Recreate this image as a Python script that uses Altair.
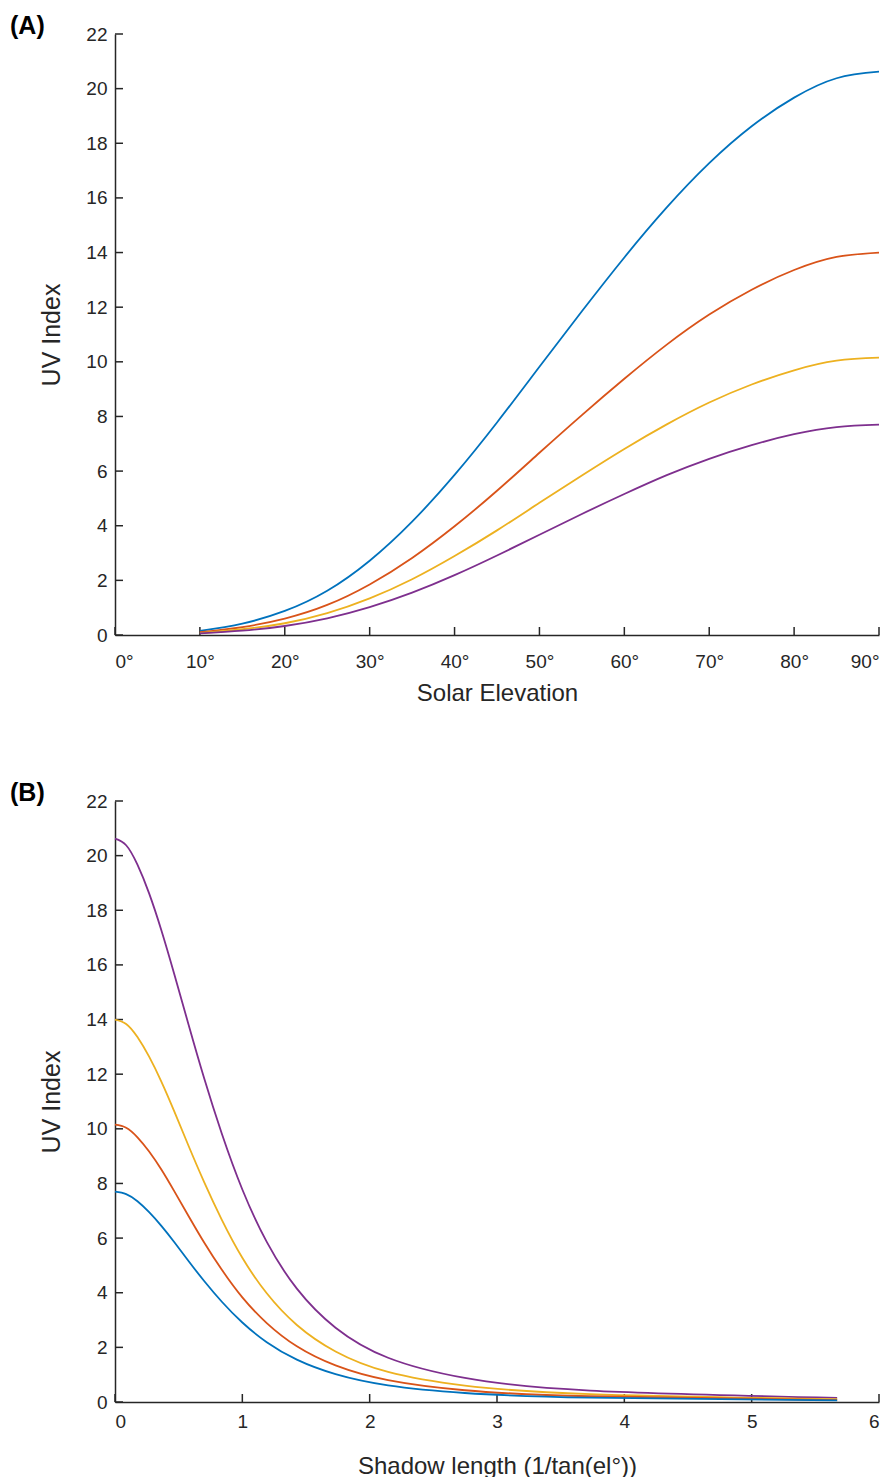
import altair as alt
import pandas as pd

# ---- data ----
elev = [10, 15, 20, 25, 30, 35, 40, 45, 50, 55, 60, 65, 70, 75, 80, 85, 90]
uv_s1 = [0.15, 0.42, 0.88, 1.62, 2.72, 4.15, 5.86, 7.78, 9.82, 11.85, 13.82, 15.65, 17.27, 18.62, 19.67, 20.38, 20.62]
uv_s2 = [0.10, 0.29, 0.60, 1.10, 1.85, 2.82, 3.98, 5.28, 6.67, 8.05, 9.38, 10.63, 11.73, 12.64, 13.36, 13.84, 14.00]
uv_s3 = [0.07, 0.21, 0.43, 0.80, 1.34, 2.04, 2.89, 3.83, 4.84, 5.84, 6.81, 7.71, 8.51, 9.17, 9.69, 10.04, 10.15]
uv_s4 = [0.06, 0.16, 0.33, 0.61, 1.02, 1.55, 2.19, 2.91, 3.67, 4.43, 5.16, 5.85, 6.45, 6.95, 7.35, 7.61, 7.70]
series = ["s1", "s2", "s3", "s4"]

colors_a = ["#0072BD", "#D95319", "#EDB120", "#7E2F8E"]
colors_b = ["#7E2F8E", "#EDB120", "#D95319", "#0072BD"]

yticks = [0, 2, 4, 6, 8, 10, 12, 14, 16, 18, 20, 22]
xticks_a = [0, 10, 20, 30, 40, 50, 60, 70, 80, 90]
xticks_b = [0, 1, 2, 3, 4, 5, 6]

rows = []
for name, vals in zip(series, [uv_s1, uv_s2, uv_s3, uv_s4]):
    for e, v in zip(elev, vals):
        rows.append({"el": e, "uv": v, "series": name})
df = pd.DataFrame(rows)

df_yt = pd.DataFrame({"uv": yticks})
df_xa = pd.DataFrame({"el": xticks_a})
df_xb = pd.DataFrame({"sx": xticks_b})

FONT = "Liberation Sans"
INK = "#262626"
W = 764
H = 601
TICK = 8

y_enc = alt.Y("uv:Q", scale=alt.Scale(domain=[0, 22], nice=False, zero=False),
              axis=alt.Axis(values=yticks, title="UV Index"))


def panel(xfield, xdomain, xticks, xlabelexpr, xtitle, colors, tag, xdf, lpad, tpad, interp, calc=None):
    x_enc = alt.X(f"{xfield}:Q", scale=alt.Scale(domain=xdomain, nice=False, zero=False),
                  axis=alt.Axis(values=xticks, title=xtitle, labelExpr=xlabelexpr,
                                labelPadding=lpad, titlePadding=tpad))
    base = alt.Chart(df)
    if calc is not None:
        base = base.transform_calculate(**calc)
    lines = base.mark_line(interpolate=interp, strokeWidth=1.8).encode(
        x=x_enc, y=y_enc,
        color=alt.Color("series:N", scale=alt.Scale(domain=series, range=colors), legend=None),
        order=alt.Order("el:Q"),
    )
    yt = alt.Chart(df_yt).mark_rule(color=INK, strokeWidth=1.5).encode(
        y=y_enc, x=alt.value(0), x2=alt.value(TICK))
    xt = alt.Chart(xdf).mark_rule(color=INK, strokeWidth=1.5).encode(
        x=x_enc, y=alt.value(H), y2=alt.value(H - TICK))
    return alt.layer(yt, xt, lines).properties(
        width=W, height=H,
        title=alt.TitleParams(tag, anchor="start", frame="group", dx=-105, offset=-14,
                              fontSize=25, fontWeight="bold", font=FONT, color="black"),
    )


pa = panel("el", [0, 90], xticks_a, "datum.value + '°'", "Solar Elevation", colors_a, "(A)", df_xa, 17, 10,
           "natural")
pb = panel("sx", [0, 6], xticks_b, "datum.label", "Shadow length (1/tan(el°))", colors_b, "(B)", df_xb, 10, 23,
           "natural", calc={"sx": "1 / tan(datum.el * PI / 180)"})

chart = alt.vconcat(pa, pb, spacing=76).resolve_scale(color="independent").properties(
    padding={"left": 10, "top": 14, "right": 0, "bottom": 0}
).configure_axis(
    grid=False, ticks=False, domainColor=INK, domainWidth=1.5,
    labelFont=FONT, labelFontSize=19, labelColor=INK,
    titleFont=FONT, titleFontSize=24, titleFontWeight="normal", titleColor=INK,
).configure_axisY(labelPadding=8, titlePadding=21, titleFontSize=25).configure_view(stroke=None)

chart.save("out.html", embed_options={"renderer": "svg", "actions": False})
